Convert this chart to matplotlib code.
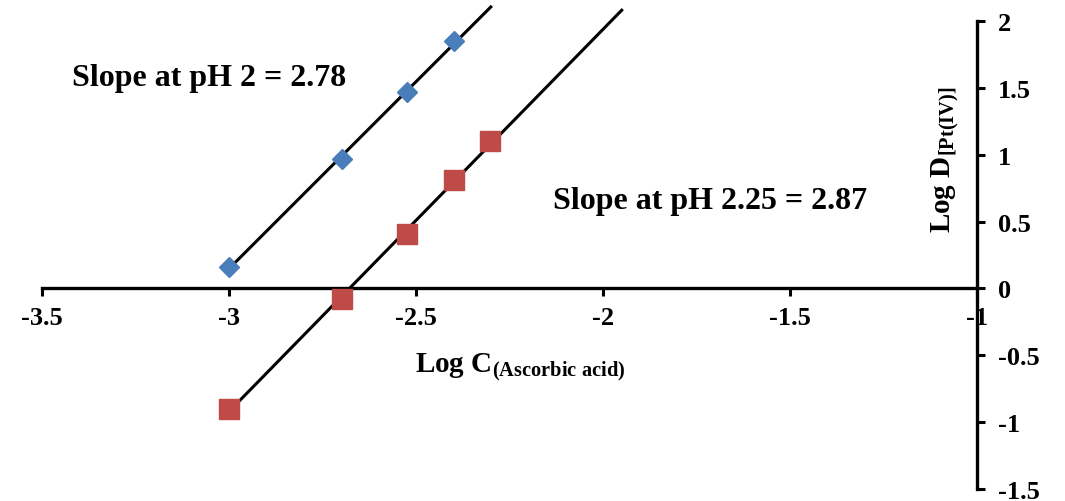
import numpy as np
import matplotlib
matplotlib.use('Agg')
import matplotlib.pyplot as plt

# ============================== Data ============================== #
log_c_ph2 = [-3.0, -2.699, -2.523, -2.398]
log_d_ph2 = [0.16, 0.97, 1.47, 1.85]

log_c_ph225 = [-3.0, -2.699, -2.523, -2.398, -2.301]
log_d_ph225 = [-0.90, -0.08, 0.41, 0.81, 1.10]

# trendline extents (Excel style forecast forward)
fit_range_ph2 = [-3.0, -2.30]
fit_range_ph225 = [-3.0, -1.95]

x_ticks = [-3.5, -3, -2.5, -2, -1.5, -1]
y_ticks = [-1.5, -1, -0.5, 0, 0.5, 1, 1.5, 2]

plt.rcParams['font.family'] = ['Liberation Serif', 'DejaVu Serif']
plt.rcParams['font.weight'] = 'bold'
plt.rcParams['mathtext.fontset'] = 'custom'
plt.rcParams['mathtext.rm'] = 'Liberation Serif:bold'
plt.rcParams['mathtext.bf'] = 'Liberation Serif:bold'
plt.rcParams['mathtext.it'] = 'Liberation Serif:bold'

fig = plt.figure(figsize=(10.65, 5.02), dpi=100)
ax = fig.add_axes([42 / 1065, 12 / 502, 935 / 1065, 468 / 502])
ax.set_xlim(-3.5, -1)
ax.set_ylim(-1.5, 2)

# Trendlines
for xs, ys, rng in [(log_c_ph2, log_d_ph2, fit_range_ph2),
                    (log_c_ph225, log_d_ph225, fit_range_ph225)]:
    slope, icpt = np.polyfit(xs, ys, 1)
    xx = np.array(rng)
    ax.plot(xx, slope * xx + icpt, color='black', lw=2.2, clip_on=False, zorder=2)

ax.plot(log_c_ph2, log_d_ph2, 'D', color='#4a7ebb', ms=10, mec='#4a7ebb', zorder=3)
ax.plot(log_c_ph225, log_d_ph225, 's', color='#be4b48', ms=14, mec='#be4b48', zorder=3)

# Axes styling
ax.spines['top'].set_visible(False)
ax.spines['left'].set_visible(False)
ax.spines['bottom'].set_position(('data', 0))
ax.spines['right'].set_position(('data', -1))
for s in ['bottom', 'right']:
    ax.spines[s].set_linewidth(2.4)
ax.yaxis.tick_right()
ax.set_xticks(x_ticks)
ax.set_xticklabels([f'{t:g}' for t in x_ticks])
ax.set_yticks(y_ticks)
ax.set_yticklabels([f'{t:g}' for t in y_ticks])
ax.tick_params(axis='both', direction='out', length=6, width=2.2, labelsize=19)
ax.tick_params(axis='x', pad=7)
ax.tick_params(axis='y', pad=9)

# Axis labels
ax.text(-2.22, -0.58, r'Log C$_{\mathrm{(Ascorbic\ acid)}}$', fontsize=21,
        fontweight='bold', ha='center', va='center')
ax.text(-1.085, 0.97, r'Log D$_{\mathrm{[Pt(IV)]}}$', fontsize=21, fontweight='bold',
        rotation=90, ha='center', va='center')

# Slope annotations
ax.text(-3.42, 1.58, 'Slope at pH 2 = 2.78', fontsize=23, fontweight='bold',
        ha='left', va='center')
ax.text(-2.135, 0.66, 'Slope at pH 2.25 = 2.87', fontsize=23, fontweight='bold',
        ha='left', va='center')

fig.savefig('out.png', dpi=100)
